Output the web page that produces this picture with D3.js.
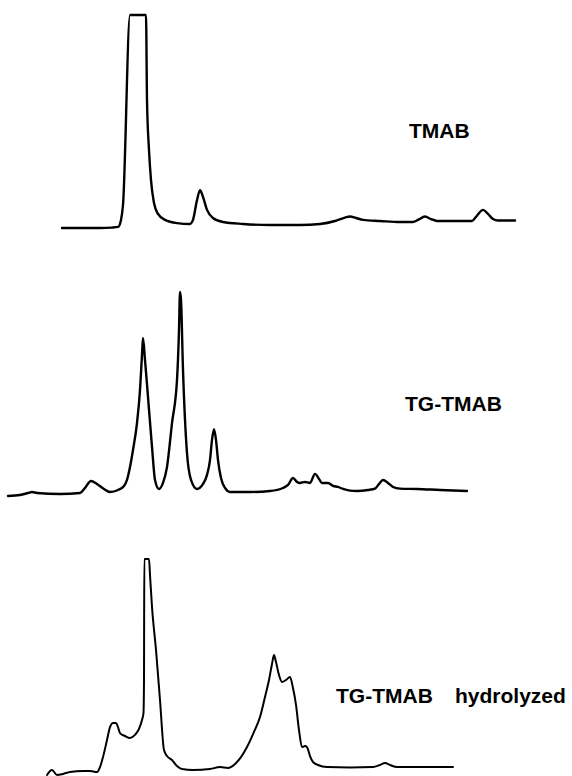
<!DOCTYPE html>
<html>
<head>
<meta charset="utf-8">
<script src="https://cdn.jsdelivr.net/npm/d3@7"></script>
<style>
  html, body { margin: 0; padding: 0; background: #fff; }
  svg { display: block; }
  text { font-family: "Liberation Sans", Arial, Helvetica, sans-serif; font-weight: bold; fill: #000; }
</style>
</head>
<body>
<svg id="chart" width="572" height="776"></svg>
<script>
// Retention time (min) and detector signal (% of full scale) for each chromatogram
const tmabTime = [6.2,10,11.2,11.8,12.1,12.3,13,14.6,14.7,14.9,15.1,15.4,15.8,16.5,17.7,19,19.3,19.7,20,20.3,20.7,21.3,22.3,24.3,27,30,32,33.5,34.5,35,35.6,36.3,38,40,41.3,41.8,42.5,43.1,43.7,45.5,47.2,47.6,48.3,48.8,49.3,49.8,51.5];
const tmabSignal = [0,0,0.2,0.5,3.8,10.8,100,100,60.1,36.6,22.5,11.7,6.6,3.8,2.3,1.9,3.8,13.1,17.8,14.6,8.5,4.7,2.8,1.9,1.4,1.4,1.9,3.3,4.9,5.4,4.7,3.8,3.3,2.8,2.8,3.8,5.4,4.2,3.3,3.3,3.3,5.2,8.5,6.6,4.2,3.5,3.5];

const tgTime = [0.8,2,2.8,3.2,3.7,6,8,8.5,9.1,9.7,10.4,11,11.8,12.4,12.7,13,13.3,13.7,14,14.2,14.3,14.5,14.8,15.2,15.5,15.9,16.3,16.7,17.2,17.7,17.9,18,18.1,18.3,18.7,19.1,19.7,20.3,20.7,21,21.2,21.4,21.6,21.8,22.1,22.5,23,25,27,28.3,28.8,29.3,29.7,30,30.5,31,31.5,31.9,32.2,32.8,33.3,33.8,34.3,35,35.7,36.8,37.5,37.9,38.3,38.8,39.3,40,41.7,44,46.7];
const tgSignal = [-1.5,-1,0,0.5,0,-0.5,0,2.5,6,4.5,2,0.5,1.5,3.5,6.5,12.9,21.4,34.8,51.2,68.7,77.1,66.2,47.8,22.9,6.5,2,5,12.9,34.8,56.2,81.1,100,96,61.2,19.9,6.5,2,4.5,9,16.4,26.4,31.8,26.4,16.4,7.5,2.5,0.5,0.5,1,2.5,4,7.5,5.5,5,5.5,5,9.5,7,5,5,3.5,3,2,1.2,1,1.5,2.2,4.5,6.5,5,3,2.2,2,1.5,1];

const hydTime = [4.7,5.2,5.7,6.3,7,8.3,9,9.7,10,10.3,10.7,11,11.3,11.6,11.8,12,12.5,13,13.5,13.9,14.2,14.35,14.4,14.43,14.9,15,15.2,15.6,16,16.4,16.7,17.2,17.7,18.2,19.3,21,22,22.8,23.5,24.1,24.7,25.4,26,26.5,26.9,27.2,27.4,27.6,27.9,28.2,28.6,29,29.3,29.6,29.9,30.2,30.5,30.7,31,31.3,31.8,32.7,35,37.3,38,38.5,39,39.7,45.3];
const hydSignal = [-1.4,0.9,-1.4,-0.9,0,0.5,0.5,0,2.3,7,15,21.1,23,23,21.1,18.3,16.9,16,17.4,20.2,24.4,27.7,43.2,100,100,92.5,77.5,57.3,33.8,10.3,7.5,5.6,2.8,1.4,0.9,1.4,2.3,1.9,3.8,7,11.7,18.8,25.8,35.2,43.2,50.7,54.9,51.6,45.5,42.3,43.2,44.6,39.4,31.5,19.7,11.7,12.2,11.7,7.5,4.7,3.3,2.3,2.1,2.3,3.3,4.2,3.3,2.3,2.3];

const labels = ["TMAB", "TG-TMAB", "TG-TMAB", "hydrolyzed"];

const svg = d3.select("#chart");
const x = d3.scaleLinear().domain([0, 57.2]).range([0, 572]);

const panels = [
  { time: tmabTime, signal: tmabSignal, y: d3.scaleLinear().domain([0, 100]).range([228, 15]), sw: 2.4 },
  { time: tgTime, signal: tgSignal, y: d3.scaleLinear().domain([0, 100]).range([493, 292]), sw: 2.4 },
  { time: hydTime, signal: hydSignal, y: d3.scaleLinear().domain([0, 100]).range([772, 559]), sw: 2 }
];

panels.forEach(p => {
  const pts = p.time.map((t, i) => [t, p.signal[i]]);
  const line = d3.line()
    .x(d => x(d[0]))
    .y(d => p.y(d[1]))
    .curve(d3.curveMonotoneX);
  svg.append("path")
    .datum(pts)
    .attr("d", line)
    .attr("fill", "none")
    .attr("stroke", "#000")
    .attr("stroke-width", p.sw)
    .attr("stroke-linejoin", "round")
    .attr("stroke-linecap", "round");
});

const labelPos = [[409, 138], [405, 411], [336, 703], [455, 703]];
labels.forEach((l, i) => {
  svg.append("text")
    .attr("x", labelPos[i][0])
    .attr("y", labelPos[i][1])
    .attr("font-size", 21)
    .text(l);
});
</script>
</body>
</html>
